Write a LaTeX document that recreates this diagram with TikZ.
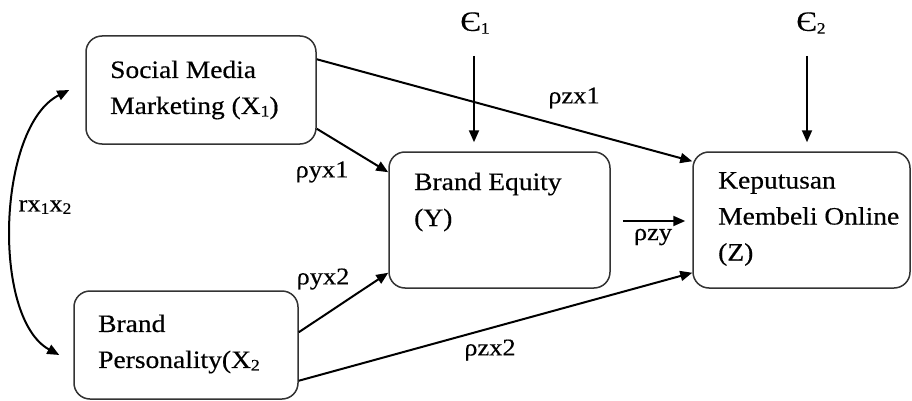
\documentclass[tikz,border=0pt]{standalone}
\usepackage{fontspec}
\setmainfont{Liberation Serif}[FakeStretch=1.1,FakeBold=0.4]
\usetikzlibrary{arrows.meta,calc}
\newcommand\mysub[1]{\raisebox{-0.1em}{\fontsize{16}{16}\selectfont #1}}
\begin{document}
\begin{tikzpicture}[x=1pt,y=-1pt,
  box/.style={draw=black!80, line width=1.5pt, rounded corners=16pt, fill=white, inner sep=0pt},
  txt/.style={align=left, inner sep=0pt, font=\fontsize{25}{36}\selectfont},
  conn/.style={line width=2pt, -{Triangle[length=12pt,width=10pt]}},
  lbl/.style={inner sep=0pt, font=\fontsize{24}{28}\selectfont},
  eps/.style={inner sep=0pt, font=\fontsize{28}{30}\selectfont}]
\useasboundingbox (0,0) rectangle (912,401);

% boxes
\node[box, minimum width=230pt, minimum height=108pt] (X1) at (201,90) {};
\node[txt, anchor=west] (X1t) at (110,90) {Social Media\\Marketing (X\mysub{1})};

\node[box, minimum width=224pt, minimum height=108pt] (X2) at (186,345) {};
\node[txt, anchor=west] (X2t) at (98,344) {Brand\\Personality(X\mysub{2}};

\node[box, minimum width=221pt, minimum height=136pt] (Y) at (499.5,220) {};
\node[txt, anchor=west] (Yt) at (414,202) {Brand Equity\\(Y)};

\node[box, minimum width=217pt, minimum height=136pt] (Z) at (801.5,220) {};
\node[txt, anchor=west] (Zt) at (718,219) {Keputusan\\Membeli Online\\(Z)};

% error terms
\node[eps] (e1) at (475,23) {Є\mysub{1}};
\node[eps] (e2) at (811,23) {Є\mysub{2}};
\draw[conn] ([xshift=-1pt,yshift=-22pt]e1.south) -- ([xshift=-1pt,yshift=9pt]e1.south |- Y.north);
\draw[conn] ([xshift=-4pt,yshift=-22pt]e2.south) -- ([xshift=-4pt,yshift=9pt]e2.south |- Z.north);

% paths
\draw[conn] ([yshift=-24pt]X1.north east) -- ([yshift=-10pt]Z.north west);
\draw[conn] ([yshift=16pt]X1.south east) -- ([yshift=-21pt]Y.north west);
\draw[conn] ([yshift=-42pt]X2.north east) -- ([yshift=16pt]Y.south west);
\draw[conn] ([yshift=19pt]X2.south east) -- ([yshift=16pt]Z.south west);
\draw[conn] ([xshift=12pt,yshift=-1pt]Y.east) -- ([xshift=-7pt,yshift=-1pt]Z.west);

% correlation
\draw[line width=2pt, {Triangle[length=12pt,width=10pt]}-{Triangle[length=12pt,width=10pt]}]
  ([xshift=-16pt]X1.west) .. controls +(-72,36) and +(-68,-37) .. ([xshift=-14pt,yshift=-10pt]X2.west);

% labels
\node[lbl] (r12) at (45,207) {rx\mysub{1}x\mysub{2}};
\node[lbl] (lzx1) at (574,98) {ρzx1};
\node[lbl] (lyx1) at (322,172) {ρyx1};
\node[lbl] (lyx2) at (323,279) {ρyx2};
\node[lbl] (lzx2) at (490,350) {ρzx2};
\node[lbl] (lzy) at (653,237) {ρzy};
\end{tikzpicture}
\end{document}
